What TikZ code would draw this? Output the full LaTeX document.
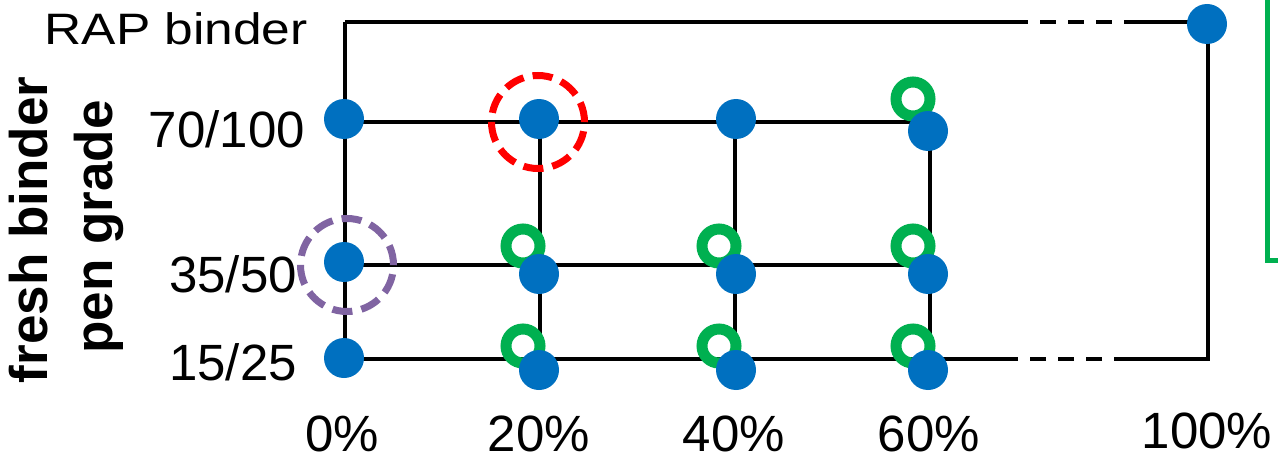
\documentclass[tikz,border=0pt]{standalone}
\usepackage{fontspec}
\setmainfont{Liberation Sans}
\definecolor{dotblue}{HTML}{0070C0}
\definecolor{ringgreen}{HTML}{00B050}
\definecolor{hired}{HTML}{FF0000}
\definecolor{hipurple}{HTML}{8064A2}
\tikzset{
  gridline/.style={line width=4.8pt, black},
  gapline/.style={line width=4.8pt, black, dash pattern=on 16pt off 12pt},
  bluedot/.style={circle, fill=dotblue, minimum size=40pt, inner sep=0pt},
  greenring/.style={circle, draw=ringgreen, line width=11pt, minimum size=34pt, inner sep=0pt},
  hiring/.style={circle, draw=#1, line width=7pt, minimum size=93pt, inner sep=0pt, dash pattern=on 20pt off 9.2pt},
  lbl/.style={font=\fontsize{51}{60}\selectfont, inner sep=0pt},
  axislbl/.style={font=\fontsize{53}{62}\selectfont\bfseries, inner sep=0pt, rotate=90, anchor=base}
}
\begin{document}
\begin{tikzpicture}[x=1pt,y=-1pt]
\useasboundingbox (0,0) rectangle (1278,460);
% grid coordinates
\coordinate (r0) at (345,22);
\coordinate (tA) at (1012,22);
\coordinate (tB) at (1130,22);
\coordinate (tR) at (1208,22);
\coordinate (g00) at (345,122);
\coordinate (g10) at (540,122);
\coordinate (g20) at (735,122);
\coordinate (g30) at (930,122);
\coordinate (g01) at (345,265);
\coordinate (g31) at (930,265);
\coordinate (g02) at (345,359);
\coordinate (g12) at (540,359);
\coordinate (g22) at (735,359);
\coordinate (g32) at (930,359);
\coordinate (bA) at (1012,359);
\coordinate (bB) at (1130,359);
\coordinate (bR) at (1208,359);
% lines
\draw[gridline] (r0) -- (tA);
\draw[gapline] (tA) -- (tB);
\draw[gridline] (tB) -- (tR) -- (bR) -- (bB);
\draw[gapline] (bB) -- (bA);
\draw[gridline] (bA) -- (g02);
\draw[gridline] (r0) -- (g02);
\draw[gridline] (g00) -- (g30);
\draw[gridline] (g01) -- (g31);
\draw[gridline] (g10) -- (g12);
\draw[gridline] (g20) -- (g22);
\draw[gridline] (g30) -- (g32);
% green bracket
\coordinate (k0) at (1267,-6);
\coordinate (k1) at (1267,260);
\coordinate (k2) at (1285,260);
\draw[ringgreen, line width=5pt] (k0) -- (k1) -- (k2);
% green rings
\node[greenring] (o30) at (913,99) {};
\node[greenring] (o11) at (523,246) {};
\node[greenring] (o21) at (719,246) {};
\node[greenring] (o31) at (913,246) {};
\node[greenring] (o12) at (523,346) {};
\node[greenring] (o22) at (719,346) {};
\node[greenring] (o32) at (913,346) {};
% blue dots
\node[bluedot] (dR) at (1207,24) {};
\node[bluedot] (d00) at (344,119) {};
\node[bluedot] (d10) at (539,119) {};
\node[bluedot] (d20) at (736,119) {};
\node[bluedot] (d30) at (928,131) {};
\node[bluedot] (d01) at (344,262) {};
\node[bluedot] (d11) at (539,274) {};
\node[bluedot] (d21) at (736,274) {};
\node[bluedot] (d31) at (928,274) {};
\node[bluedot] (d02) at (344,358) {};
\node[bluedot] (d12) at (539,370) {};
\node[bluedot] (d22) at (736,370) {};
\node[bluedot] (d32) at (928,370) {};
% highlight circles
\node[hiring=hired] (hr) at (538,122) {};
\node[hiring=hipurple] (hp) at (347,265) {};
% row labels
\node[lbl, anchor=base east, font=\fontsize{44}{52}\selectfont, xscale=1.17] (tRAP) at (308,45) {RAP binder};
\node[lbl, anchor=base east] (t70) at (305,147) {70/100};
\node[lbl, anchor=base east] (t35) at (297,292) {35/50};
\node[lbl, anchor=base east] (t15) at (297,380) {15/25};
% axis title
\node[axislbl] (ax1) at (47,230) {fresh binder};
\node[axislbl] (ax2) at (112,227) {pen grade};
% column labels
\node[lbl, anchor=base] (c0) at (342,451) {0\%};
\node[lbl, anchor=base] (c20) at (539,451) {20\%};
\node[lbl, anchor=base] (c40) at (734,451) {40\%};
\node[lbl, anchor=base] (c60) at (929,451) {60\%};
\node[lbl, anchor=base] (c100) at (1207,448) {100\%};
\end{tikzpicture}
\end{document}
